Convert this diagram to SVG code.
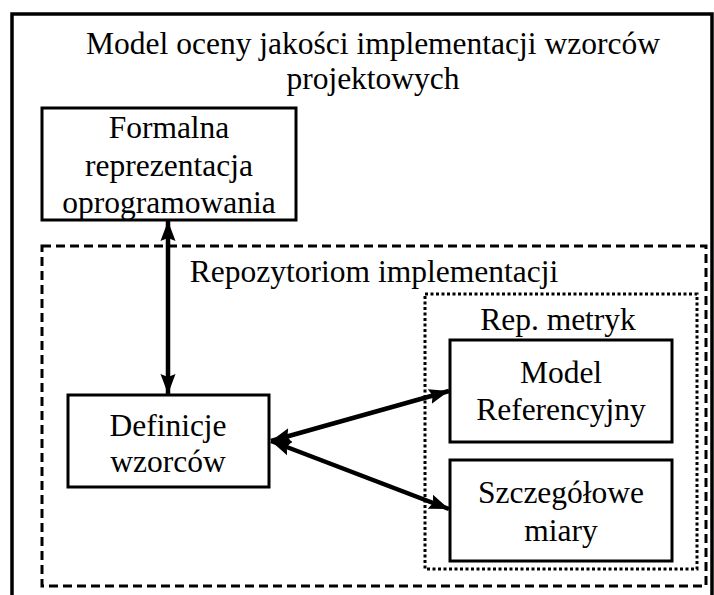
<svg xmlns="http://www.w3.org/2000/svg" width="714" height="595" viewBox="0 0 714 595">
<style>
text{font-family:"Liberation Serif","Times New Roman",serif;font-size:31.5px;fill:#000;text-anchor:middle}
.box{fill:#fff;stroke:#000;stroke-width:3}
.frame{fill:none;stroke:#000;stroke-width:3.5}
.dash{fill:none;stroke:#000;stroke-width:3;stroke-dasharray:9 5}
.dot{fill:none;stroke:#000;stroke-width:3;stroke-dasharray:3 2.5}
.conn{fill:none;stroke:#000;stroke-width:4.5}
</style>
<defs>
<marker id="ah" markerUnits="userSpaceOnUse" markerWidth="22" markerHeight="18" refX="20" refY="9" orient="auto-start-reverse">
<path d="M0,1.5 L20,9 L0,16.5 L3,9 Z" fill="#000"/>
</marker>
</defs>
<rect width="714" height="595" fill="#fff"/>
<g id="model">
<rect class="frame" x="12" y="14" width="700" height="600"/>
<text x="373" y="54">Model oceny jakości implementacji wzorców</text>
<text x="373" y="89">projektowych</text>
</g>
<g id="repozytorium">
<rect class="dash" x="42" y="246" width="664" height="340"/>
<text x="374" y="282">Repozytoriom implementacji</text>
</g>
<g id="rep-metryk">
<rect class="dot" x="425" y="294" width="272" height="275"/>
<text x="558" y="330">Rep. metryk</text>
</g>
<g id="formalna">
<rect class="box" x="42" y="108" width="254" height="112"/>
<text x="169" y="138">Formalna</text>
<text x="169" y="176">reprezentacja</text>
<text x="169" y="213">oprogramowania</text>
</g>
<g id="definicje">
<rect class="box" x="68" y="395" width="201" height="92"/>
<text x="168" y="436">Definicje</text>
<text x="168" y="472">wzorców</text>
</g>
<g id="model-ref">
<rect class="box" x="450" y="340" width="222" height="102"/>
<text x="561" y="383">Model</text>
<text x="561" y="420">Referencyjny</text>
</g>
<g id="szczegolowe">
<rect class="box" x="450" y="460" width="222" height="101"/>
<text x="561" y="503">Szczegółowe</text>
<text x="561" y="541">miary</text>
</g>
<g id="connectors">
<line class="conn" x1="168" y1="221" x2="168" y2="394" marker-start="url(#ah)" marker-end="url(#ah)"/>
<line class="conn" x1="271" y1="441" x2="449" y2="391" marker-start="url(#ah)" marker-end="url(#ah)"/>
<line class="conn" x1="271" y1="441" x2="449" y2="509" marker-start="url(#ah)" marker-end="url(#ah)"/>
</g>
</svg>
